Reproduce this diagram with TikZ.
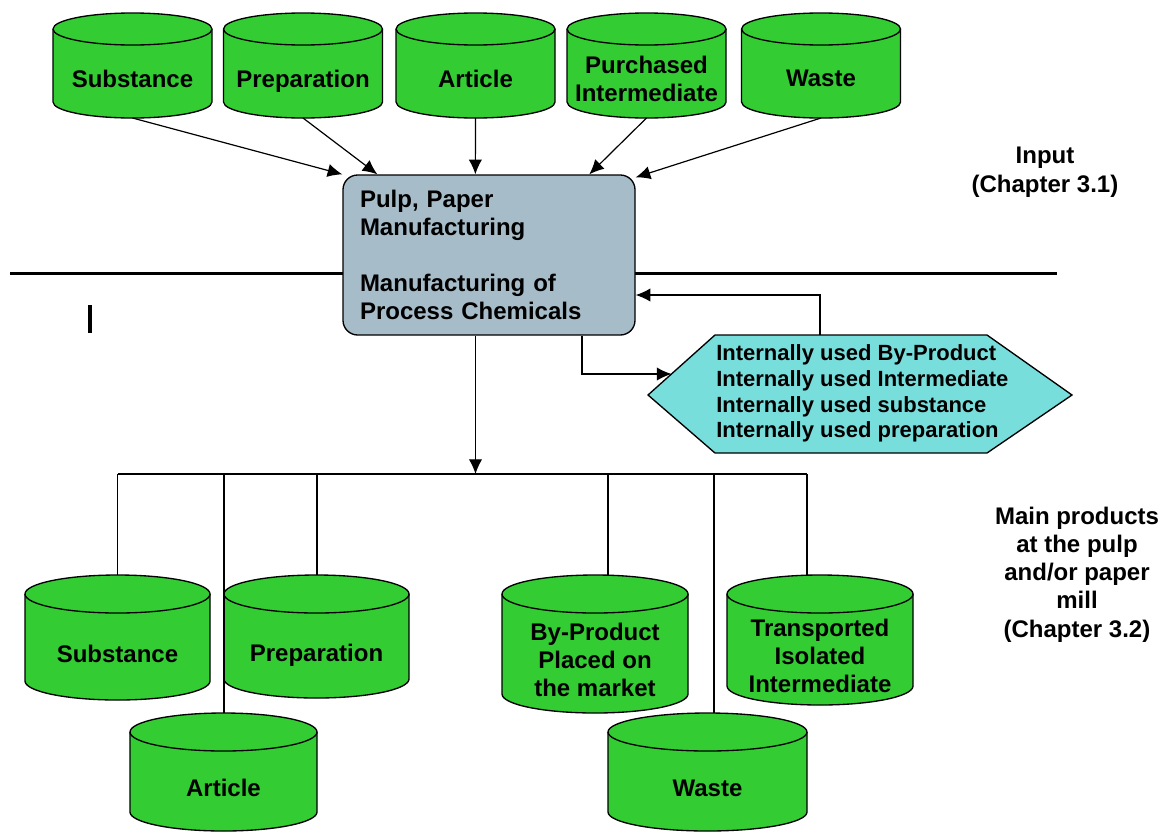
\documentclass[tikz,border=0pt]{standalone}
\usepackage{fontspec}
\setmainfont{Liberation Sans}
\usetikzlibrary{arrows.meta,positioning}
\definecolor{drumgreen}{RGB}{51,204,51}
\definecolor{procgrey}{RGB}{166,188,200}
\definecolor{hexcyan}{RGB}{120,222,220}
\tikzstyle{drumbody}=[draw=black, fill=drumgreen, line width=1pt]
\tikzstyle{drumlabel}=[align=center, inner sep=0pt, text depth=4.5pt, font=\bfseries\fontsize{18}{21}\selectfont]
\tikzstyle{procbox}=[draw=black, fill=procgrey, rounded corners=11pt, line width=1pt, minimum width=219pt, minimum height=120pt, inner xsep=12.75pt, text width=193.5pt, align=left, font=\bfseries\fontsize{18}{21}\selectfont]
\tikzstyle{flow}=[line width=0.9pt, -{Latex[length=11pt,width=10pt]}]
\tikzstyle{bus}=[line width=0.9pt]
\tikzstyle{sidenote}=[align=center, font=\bfseries\fontsize{18}{21.5}\selectfont]

% drum: name, x centre, y top, width, height, cap radius, label
\newcommand{\drum}[7]{%
  \filldraw[drumbody] ({#2-#4/2},{#3+#6}) -- ({#2-#4/2},{#3+#5-#6})
    arc[start angle=180, end angle=0, x radius=#4/2, y radius=#6]
    -- ({#2+#4/2},{#3+#6})
    arc[start angle=0, end angle=-180, x radius=#4/2, y radius=#6] -- cycle;
  \draw[drumbody, fill=none] ({#2-#4/2},{#3+#6})
    arc[start angle=180, end angle=0, x radius=#4/2, y radius=#6];
  \node[drumlabel] (#1) at (#2,{#3+#6+#5/2}) {#7};
  \coordinate (#1-top) at (#2,#3);
  \coordinate (#1-bot) at (#2,{#3+#5});
}

\begin{document}
\begin{tikzpicture}[x=0.75pt, y=-0.75pt]
    \useasboundingbox (0,0) rectangle (1170,832);

    % input drums
    \drum{tsub}{132.5}{13}{159}{105}{16}{Substance}
    \drum{tprep}{303}{13}{159}{105}{16}{Preparation}
    \drum{tart}{475.5}{13}{159}{105}{16}{Article}
    \drum{tpur}{646.5}{13}{159}{105}{16}{Purchased\\Intermediate}
    \drum{twaste}{821}{13}{159}{105}{16}{Waste}

    % boundary line and mark
    \draw[line width=2.25pt] (10,273) -- (1057,273);
    \draw[line width=3pt] (90,305) -- (90,333);

    % process box
    \node[procbox] (proc) at (489,255) {Pulp, Paper\\Manufacturing\\[21pt]Manufacturing of\\Process Chemicals};

    % internal use hexagon
    \filldraw[draw=black, fill=hexcyan, line width=1pt] (648,395) -- (715,335) -- (987,335) -- (1072,395) -- (987,453) -- (715,453) -- cycle;
    \node[anchor=west, align=left, inner sep=0pt, font=\bfseries\fontsize{16.5}{19.3}\selectfont] (internal) at (716,393.5)
        {Internally used By-Product\\Internally used Intermediate\\Internally used substance\\Internally used preparation};
    \coordinate (hex-top) at (820,335);
    \coordinate (hex-in) at (671.5,374);

    % side notes
    \node[sidenote] (input) at (1045,172.5) {Input\\(Chapter 3.1)};
    \node[sidenote, font=\bfseries\fontsize{18}{21.2}\selectfont] (main) at (1077,574.5) {Main products\\at the pulp\\and/or paper\\mill\\(Chapter 3.2)};

    % Arcs into the box
    \draw[flow] (tsub-bot) to (proc.north west);
    \draw[flow] (tprep-bot) to ([xshift=26.25pt]proc.north west);
    \draw[flow] (tart-bot) to ([xshift=99.75pt]proc.north west);
    \draw[flow] (tpur-bot) to ([xshift=185.25pt]proc.north west);
    \draw[flow] (twaste-bot) to ([yshift=-2.25pt]proc.north east);

    % internal loop
    \draw[flow] ([xshift=69.75pt]proc.south) |- (hex-in);
    \draw[flow] (hex-top) |- ([yshift=-30pt]proc.east);

    % products
    \coordinate (split) at (475.5,474);
    \draw[flow] ([xshift=-10.125pt]proc.south) -- (split);

    \drum{bsub}{117.5}{575}{185}{125}{19}{Substance}
    \drum{bprep}{316.5}{575}{185}{123}{19}{Preparation}
    \drum{bby}{595}{575}{186}{138}{19}{By-Product\\Placed on\\the market}
    \drum{btrans}{820}{575}{186}{130}{19}{Transported\\Isolated\\Intermediate}
    \drum{bart}{223.5}{713}{187}{118}{19}{Article}
    \drum{bwaste}{707.5}{713}{199}{118}{19}{Waste}

    \draw[bus] (bsub-top |- split) -- ([xshift=-9.75pt]btrans-top |- split);
    \foreach \n/\s in {bsub/0, bart/0.375, bprep/0.375, bby/9.75, bwaste/4.875, btrans/-9.75}
        \draw[bus] ([xshift=\s pt]\n-top |- split) -- ([xshift=\s pt]\n-top);

\end{tikzpicture}
\end{document}
